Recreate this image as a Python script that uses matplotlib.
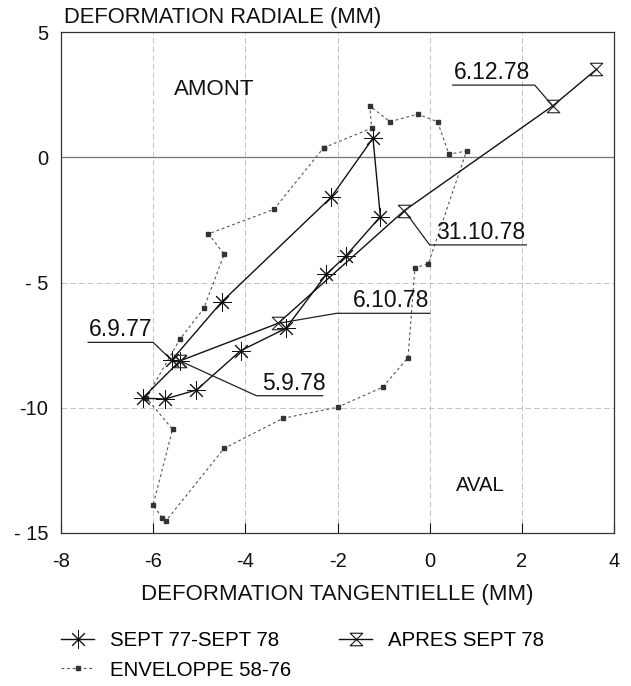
import matplotlib
matplotlib.use('Agg')
import matplotlib.pyplot as plt
from matplotlib.path import Path
from matplotlib.lines import Line2D

plt.rcParams['font.family'] = ['Liberation Sans', 'DejaVu Sans']

# SEPT 77 - SEPT 78 (asterisks)
sept_x = [-5.60, -4.51, -2.14, -1.23, -1.07, -1.82, -2.24, -3.12, -4.10, -5.06, -5.74, -6.23, -5.42]
sept_y = [-8.10, -5.77, -1.60, 0.76, -2.37, -3.94, -4.67, -6.83, -7.72, -9.29, -9.65, -9.62, -8.13]

# APRES SEPT 78 (hourglass)
apres_x = [-5.42, -3.29, -0.55, 2.67, 3.62]
apres_y = [-8.13, -6.63, -2.13, 2.05, 3.51]

# ENVELOPPE 58-76 (closed loop)
env_x = [-2.30, -1.26, -1.30, -0.86, -0.26, 0.17, 0.42, 0.80, -0.03, -0.32, -0.47, -1.02,
         -2.00, -3.18, -4.46, -5.72, -5.80, -6.00, -5.58, -6.15, -5.42, -4.90, -4.46, -4.80,
         -3.38, -2.30]
env_y = [0.38, 1.16, 2.05, 1.42, 1.72, 1.42, 0.12, 0.25, -4.26, -4.41, -8.00, -9.18,
         -9.98, -10.42, -11.62, -14.51, -14.41, -13.88, -10.86, -9.60, -7.27, -6.03, -3.87, -3.06,
         -2.08, 0.38]

# date labels: text, point, bend of leader, end of underline
date_text = ['6.9.77', '5.9.78', '6.10.78', '31.10.78', '6.12.78']
date_pt = [(sept_x[0], sept_y[0]), (apres_x[0], apres_y[0]), (apres_x[1], apres_y[1]),
           (apres_x[2], apres_y[2]), (apres_x[3], apres_y[3])]
date_bend = [(-6.0, -7.39), (-3.76, -9.52), (-2.02, -6.23), (0.0, -3.50), (2.28, 2.88)]
date_end = [-7.41, -2.32, 0.0, 2.10, 0.50]

xticks = [-8, -6, -4, -2, 0, 2, 4]
yticks = [-15, -10, -5, 0, 5]
ytick_labels = ['- 15', '-10', '- 5', '0', '5']

hourglass = Path([(-1, 1), (1, 1), (-1, -1), (1, -1), (-1, 1)],
                 [Path.MOVETO, Path.LINETO, Path.LINETO, Path.LINETO, Path.CLOSEPOLY])
star = (8, 2, 0)

fig = plt.figure(figsize=(6.31, 6.86), dpi=100)
ax = fig.add_axes([61 / 631, 1 - 533 / 686, 553 / 631, 501 / 686])

ax.set_xlim(-8, 4)
ax.set_ylim(-15, 5)
ax.set_xticks(xticks)
ax.set_xticklabels([str(v) for v in xticks])
ax.set_yticks(yticks)
ax.set_yticklabels(ytick_labels)
ax.tick_params(direction='in', length=7, width=0.8, labelsize=14.5, colors='#111111')
ax.tick_params(axis='x', pad=14)
ax.tick_params(axis='y', pad=9, length=0)
for s in ax.spines.values():
    s.set_linewidth(0.9)
    s.set_color('#333333')

for v in xticks[1:-1]:
    ax.axvline(v, color='#c4c4c4', lw=0.7, ls=(0, (6, 3)), zorder=0)
for v in [-10, -5]:
    ax.axhline(v, color='#c4c4c4', lw=0.7, ls=(0, (6, 3)), zorder=0)
ax.axhline(0, color='#777777', lw=0.9, zorder=0)

ax.plot(env_x, env_y, color='#555555', lw=0.8, ls=(0, (2.5, 2.5)), marker='s', ms=2.8,
        mfc='#333333', mec='#333333', zorder=2)
ax.plot(sept_x, sept_y, color='#111111', lw=1.0, marker=star, ms=13, mew=0.7, zorder=3)
ax.plot(apres_x, apres_y, color='#111111', lw=1.0, marker=hourglass, ms=9, mew=0.8,
        mfc='none', mec='#222222', zorder=3)

for txt, (px, py), (bx, by), ex in zip(date_text, date_pt, date_bend, date_end):
    ax.plot([px, bx, ex], [py, by, by], color='#222222', lw=0.9, zorder=2)
    if ex < bx:
        ax.text(ex + 0.02, by + 0.04, txt, fontsize=16.5, ha='left', va='bottom', color='#111111')
    elif bx < -1.5 and ex == 0.0:
        ax.text(ex, by + 0.04, txt, fontsize=16.5, ha='right', va='bottom', color='#111111')
    else:
        ax.text(bx + 0.13, by + 0.04, txt, fontsize=16.5, ha='left', va='bottom', color='#111111')

ax.text(-5.55, 2.72, 'AMONT', fontsize=16, ha='left', va='center', color='#111111')
ax.text(0.56, -13.1, 'AVAL', fontsize=14.6, ha='left', va='center', color='#111111')

ax.set_xlabel('DEFORMATION TANGENTIELLE (MM)', fontsize=16, labelpad=9, color='#111111')
fig.text(64 / 631, 1 - 17 / 686, 'DEFORMATION RADIALE (MM)', fontsize=15.8, ha='left',
         va='center', color='#111111')

handles = [
    Line2D([], [], color='#111111', lw=1.0, marker=star, ms=13, mew=0.7),
    Line2D([], [], color='#555555', lw=0.8, ls=(0, (2.5, 2.5)), marker='s', ms=2.8,
           mfc='#333333', mec='#333333'),
    Line2D([], [], color='#111111', lw=1.0, marker=hourglass, ms=9, mew=0.8, mfc='none'),
]
labels = ['SEPT 77-SEPT 78', 'ENVELOPPE 58-76', 'APRES SEPT 78']
fig.legend(handles, labels, loc='upper left', bbox_to_anchor=(43 / 631, 1 - 613 / 686),
           ncol=2, frameon=False, fontsize=14.7, handlelength=1.6, handletextpad=0.8,
           columnspacing=2.35, labelspacing=0.5)

fig.savefig('out.png', dpi=100)
